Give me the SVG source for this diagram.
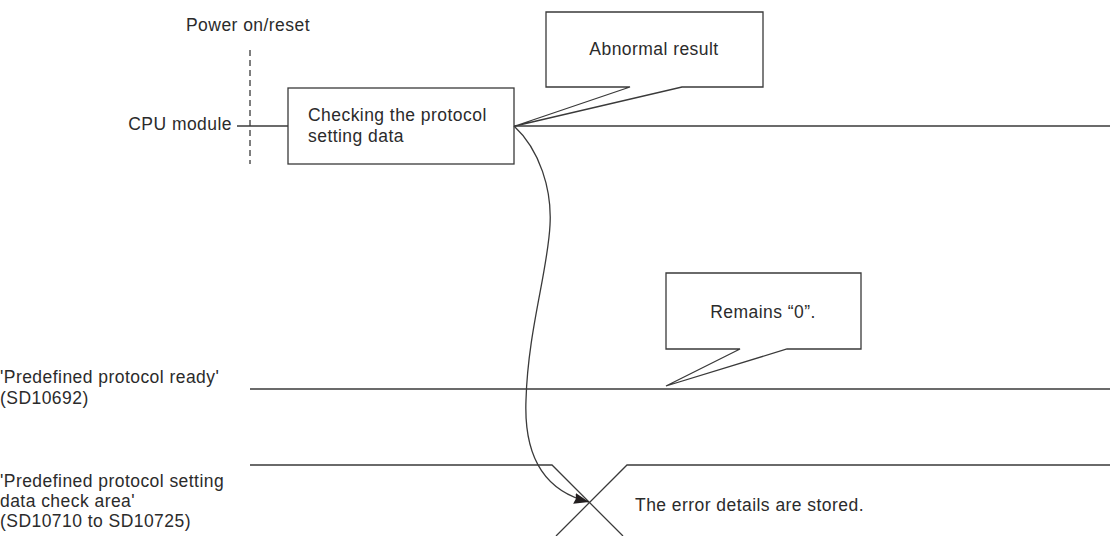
<svg xmlns="http://www.w3.org/2000/svg" width="1110" height="536" viewBox="0 0 1110 536">
  <style>
    text { font-family: "Liberation Sans", Arial, sans-serif; font-size: 17.5px; letter-spacing: 0.45px; fill: #2b2b2b; }
    .ln { stroke: #3a3a3a; stroke-width: 1.3; fill: none; }
    .box { stroke: #3a3a3a; stroke-width: 1.3; fill: #ffffff; }
    .dash { stroke: #3a3a3a; stroke-width: 1.3; stroke-dasharray: 6 4; fill: none; }
    .mid { text-anchor: middle; }
    .end { text-anchor: end; }
  </style>
  <defs>
    <marker id="arrow" viewBox="0 0 15 11" refX="15" refY="5.5" markerWidth="15" markerHeight="11" markerUnits="userSpaceOnUse" orient="auto">
      <path d="M0,0 L15,5.5 L0,11 L1.5,5.5 z" fill="#231f20"/>
    </marker>
  </defs>

  <rect width="1110" height="536" fill="#ffffff"/>

  <g id="power-reset">
    <text x="186" y="31">Power on/reset</text>
    <line class="dash" x1="250" y1="50" x2="250" y2="164"/>
  </g>

  <g id="labels">
    <text class="end" x="232" y="130">CPU module</text>
    <text x="0" y="383">'Predefined protocol ready'</text>
    <text x="0" y="404">(SD10692)</text>
    <text x="0" y="487">'Predefined protocol setting</text>
    <text x="0" y="507">data check area'</text>
    <text x="0" y="527">(SD10710 to SD10725)</text>
  </g>

  <g id="signals">
    <line class="ln" x1="237" y1="126" x2="288" y2="126"/>
    <line class="ln" x1="514" y1="126" x2="1110" y2="126"/>
    <line class="ln" x1="250" y1="389" x2="1110" y2="389"/>
    <polyline class="ln" points="250,465 552,465 623,536"/>
    <polyline class="ln" points="556,536 627,465 1110,465"/>
  </g>

  <g id="check-box">
    <rect class="box" x="288" y="88" width="226" height="76"/>
    <text x="308" y="121">Checking the protocol</text>
    <text x="308" y="142">setting data</text>
  </g>

  <g id="abnormal-callout">
    <path class="box" d="M546,12 H763 V87 H682 L515,126 L630,87 H546 Z"/>
    <text class="mid" x="654" y="55">Abnormal result</text>
  </g>

  <g id="remains-callout">
    <path class="box" d="M666,273 H861 V349 H787 L666,386 L740,349 H666 Z"/>
    <text class="mid" x="763" y="318">Remains “0”.</text>
  </g>

  <g id="error-stored">
    <text x="635" y="511">The error details are stored.</text>
  </g>

  <g id="connectors">
    <path class="ln" d="M514,126 C540,150 552,190 550,225 C548,270 528,330 526,400 C524,450 540,490 589,502" marker-end="url(#arrow)"/>
  </g>
</svg>
